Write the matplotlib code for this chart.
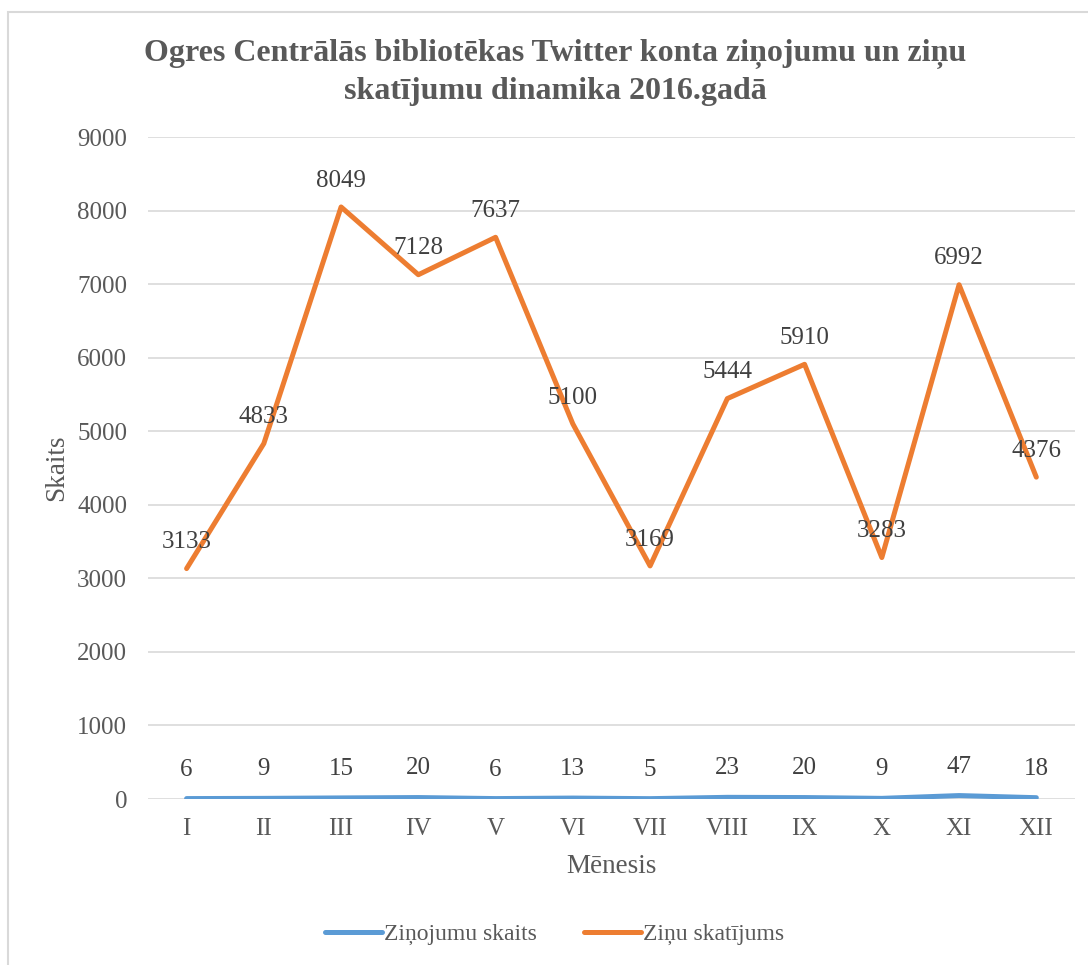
import matplotlib.pyplot as plt
from matplotlib.patches import Rectangle

months = ["I", "II", "III", "IV", "V", "VI", "VII", "VIII", "IX", "X", "XI", "XII"]
posts = [6, 9, 15, 20, 6, 13, 5, 23, 20, 9, 47, 18]
views = [3133, 4833, 8049, 7128, 7637, 5100, 3169, 5444, 5910, 3283, 6992, 4376]

plt.rcParams['font.family'] = ['Liberation Serif', 'DejaVu Serif']

fig = plt.figure(figsize=(10.88, 9.65), dpi=100)
ax = fig.add_axes([0.136, 0.172, 0.852, 0.686])

# chart border (cut off at right and bottom like the screenshot)
fig.patches.append(Rectangle((8 / 1088, -0.05), 1.2, 0.9876 + 0.05,
                             transform=fig.transFigure, fill=False,
                             edgecolor="#D9D9D9", linewidth=1.5))

x = list(range(len(months)))
ax.plot(x, posts, color="#5B9BD5", linewidth=3.6, solid_capstyle="round",
        label="Ziņojumu skaits", zorder=3)
ax.plot(x, views, color="#ED7D31", linewidth=3.6, solid_capstyle="round",
        label="Ziņu skatījums", zorder=3)

for i in x:
    ax.annotate(str(posts[i]), (i, posts[i]), xytext=(0, 13), textcoords="offset points",
                ha="center", va="bottom", fontsize=18, color="#404040")
    ax.annotate(str(views[i]), (i, views[i]), xytext=(0, 11), textcoords="offset points",
                ha="center", va="bottom", fontsize=18, color="#404040")

ax.set_xlim(-0.5, len(months) - 0.5)
ax.set_ylim(0, 9000)
ax.set_yticks(range(0, 9001, 1000))
ax.set_xticks(x)
ax.set_xticklabels(months)
ax.grid(axis="y", color="#D9D9D9", linewidth=1.2)
ax.set_axisbelow(True)
for s in ax.spines.values():
    s.set_visible(False)
ax.tick_params(length=0, labelsize=18, labelcolor="#595959", pad=14)
ax.tick_params(axis="y", pad=15)

ax.set_xlabel("Mēnesis", fontsize=19.5, color="#595959", labelpad=10)
ax.set_ylabel("Skaits", fontsize=19.5, color="#595959", labelpad=6)

fig.suptitle("Ogres Centrālās bibliotēkas Twitter konta ziņojumu un ziņu\nskatījumu dinamika 2016.gadā",
             x=0.51, y=0.96, fontsize=23, fontweight="bold", color="#595959", linespacing=1.38)

fig.legend(loc="center", bbox_to_anchor=(0.51, 0.032), ncol=2, frameon=False,
           fontsize=17, labelcolor="#595959", handlelength=2.4, handletextpad=0.1,
           columnspacing=2.0)

fig.savefig("out.png", dpi=100)
